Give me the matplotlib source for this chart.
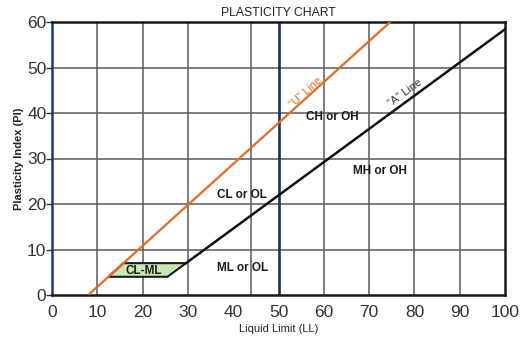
import numpy as np
import matplotlib
matplotlib.use("Agg")
import matplotlib.pyplot as plt
from matplotlib.patches import Polygon

plt.rcParams['font.family'] = ['Liberation Sans', 'DejaVu Sans']

# Axis ticks and grid positions
x_ticks = [0, 10, 20, 30, 40, 50, 60, 70, 80, 90, 100]
y_ticks = [0, 10, 20, 30, 40, 50, 60]
grid_ll = [10, 20, 30, 44, 60, 70, 80, 90]
grid_pi = [10, 20, 30, 40, 50]

# Casagrande chart lines: PI = slope * (LL - offset)
u_slope, u_offset = 0.9, 8.0
a_slope, a_offset = 0.73, 20.0
ll_split = 50
cl_ml_pi = [4, 7]

# Zone labels (text, LL, PI)
zone_names = ["CH or OH", "CL or OL", "MH or OH", "ML or OL", "CL-ML"]
zone_ll = [61.8, 42.0, 72.4, 42.0, 20.2]
zone_pi = [39.1, 22.0, 27.3, 5.9, 5.3]

fig = plt.figure(figsize=(5.25, 3.43), dpi=100)
W, H = 525, 343
ax = fig.add_axes([52 / W, 1 - 295 / H, (505 - 52) / W, (295 - 22) / H])
ax.set_xlim(0, 100)
ax.set_ylim(0, 60)

grid_col = "#5a5a5a"
for g in grid_ll:
    ax.axvline(g, color=grid_col, lw=1.1, zorder=1)
for g in grid_pi:
    ax.axhline(g, color=grid_col, lw=1.1, zorder=1)

# LL = 50 divider
ax.axvline(ll_split, color="#1c3050", lw=1.9, zorder=2)

# U-line
u_ll0 = u_offset
u_ll1 = u_offset + 60 / u_slope
ax.plot([u_ll0, u_ll1], [0, 60], color="#ec6a1f", lw=1.6, zorder=4, solid_capstyle="butt")

# CL-ML zone between PI = 4 and 7
lo, hi = cl_ml_pi
poly = [
    (u_offset + lo / u_slope, lo),
    (a_offset + lo / a_slope, lo),
    (a_offset + hi / a_slope, hi),
    (u_offset + hi / u_slope, hi),
]
ax.add_patch(Polygon(poly, closed=True, facecolor="#c9e6b4", edgecolor="#1a1a1a", lw=1.5, zorder=3))

# A-line from PI = 7 up to LL = 100
a_ll0 = a_offset + hi / a_slope
ax.plot([a_ll0, 100], [hi, a_slope * (100 - a_offset)], color="#111111", lw=1.8, zorder=4)

for name, lx, py in zip(zone_names, zone_ll, zone_pi):
    ax.text(lx, py, name, ha="center", va="center", fontsize=8.5, fontweight="bold",
            color="#1a1a1a", zorder=5)

# Line labels rotated along each line (screen angle)
def screen_angle(slope):
    p0 = ax.transData.transform((0, 0))
    p1 = ax.transData.transform((10, 10 * slope))
    return np.degrees(np.arctan2(p1[1] - p0[1], p1[0] - p0[0]))

ax.text(56.0, 44.6, '"U" Line', rotation=screen_angle(u_slope), ha="center", va="center",
        fontsize=8, color="#ec6a1f", zorder=5, rotation_mode="anchor")
ax.text(78.0, 44.3, '"A" Line', rotation=screen_angle(a_slope), ha="center", va="center",
        fontsize=8, color="#333333", zorder=5, rotation_mode="anchor")

ax.set_xticks(x_ticks)
ax.set_yticks(y_ticks)
ax.tick_params(axis="x", length=0, labelsize=12.5, labelcolor="#333333", pad=7)
ax.tick_params(axis="y", length=4, width=1, color="#333333", labelsize=12.5,
               labelcolor="#333333", pad=0)

for side in ["top", "right", "bottom"]:
    ax.spines[side].set_color("#1a1a1a")
    ax.spines[side].set_linewidth(1.8)
ax.spines["left"].set_color("#1c3a66")
ax.spines["left"].set_linewidth(1.8)

ax.set_title("PLASTICITY CHART", fontsize=8.8, color="#222222", pad=4)
ax.set_xlabel("Liquid Limit (LL)", fontsize=8, color="#222222", labelpad=3)
ax.set_ylabel("Plasticity Index (PI)", fontsize=8, fontweight="bold", color="#222222", labelpad=2)

fig.savefig("out.png", dpi=100)
